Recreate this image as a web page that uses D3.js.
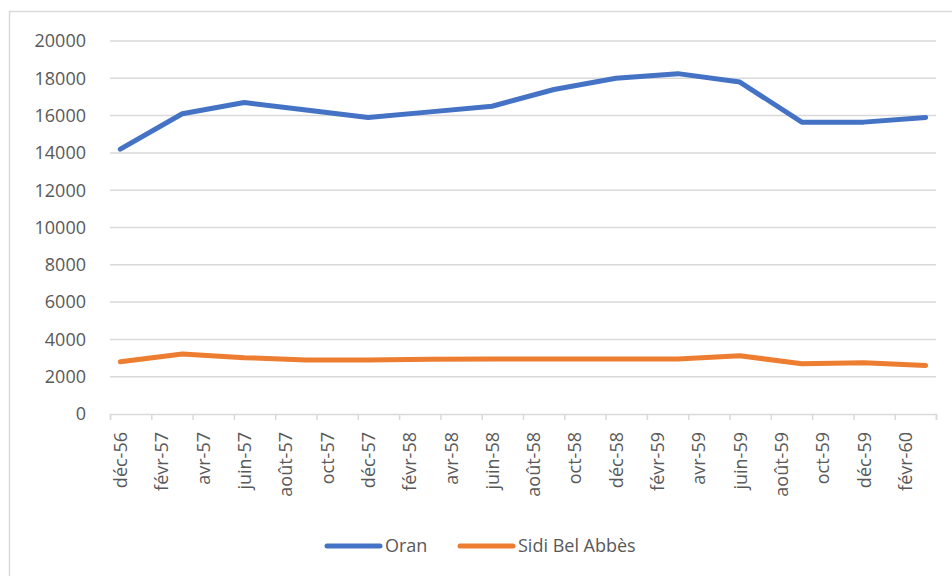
<!DOCTYPE html>
<html>
<head>
<meta charset="utf-8">
<script src="https://cdn.jsdelivr.net/npm/d3@7"></script>
<style>
  body { margin: 0; background: #fff; }
  text { font-family: "Open Sans", sans-serif; fill: #595959; }
</style>
</head>
<body>
<svg width="952" height="576"></svg>
<script>
// quarterly readings (year, month 0-based)
const dates = [
  [1956, 11], [1957, 2], [1957, 5], [1957, 8], [1957, 11], [1958, 2], [1958, 5],
  [1958, 8], [1958, 11], [1959, 2], [1959, 5], [1959, 8], [1959, 11], [1960, 2]
];
const oran = [14200, 16100, 16700, 16300, 15900, 16200, 16500, 17400, 18000, 18250, 17800, 15650, 15650, 15900];
const sidi = [2800, 3220, 3020, 2900, 2900, 2930, 2950, 2950, 2950, 2950, 3120, 2700, 2750, 2600];

const tickLabels = ['déc-56', 'févr-57', 'avr-57', 'juin-57', 'août-57', 'oct-57', 'déc-57', 'févr-58',
  'avr-58', 'juin-58', 'août-58', 'oct-58', 'déc-58', 'févr-59', 'avr-59', 'juin-59', 'août-59',
  'oct-59', 'déc-59', 'févr-60'];
const yTicks = [0, 2000, 4000, 6000, 8000, 10000, 12000, 14000, 16000, 18000, 20000];

const seriesNames = ['Oran', 'Sidi Bel Abbès'];
const colors = ['#4472C4', '#ED7D31'];

const svg = d3.select('svg');

// chart frame (cut at right/bottom as in the picture)
svg.append('path')
  .attr('d', 'M9.5,576 V11.5 H952')
  .attr('fill', 'none')
  .attr('stroke', '#d9d9d9')
  .attr('stroke-width', 1.5);

const start = new Date(1956, 11, 1);
const monthIdx = d => d3.timeMonth.count(start, new Date(d[0], d[1], 1));

const x = d3.scaleLinear().domain([0, 40]).range([110, 936]);
const y = d3.scaleLinear().domain([0, 20000]).range([414, 41]);

// gridlines
svg.append('g')
  .selectAll('line')
  .data(yTicks.filter(v => v > 0))
  .join('line')
    .attr('x1', x(0))
    .attr('x2', x(40))
    .attr('y1', d => y(d))
    .attr('y2', d => y(d))
    .attr('stroke', '#d9d9d9')
    .attr('stroke-width', 1.5);

// y labels
svg.append('g')
  .selectAll('text')
  .data(yTicks)
  .join('text')
    .attr('x', 86)
    .attr('y', d => y(d))
    .attr('dy', '0.35em')
    .attr('text-anchor', 'end')
    .style('font-size', '18px')
    .text(d => d);

// x axis with ticks every two months
const xAxisG = svg.append('g')
  .attr('transform', `translate(0,${y(0)})`)
  .call(d3.axisBottom(x).tickValues(d3.range(0, 41, 2)).tickSize(6).tickFormat(''));
xAxisG.select('.domain').attr('stroke', '#d9d9d9').attr('stroke-width', 1.5);
xAxisG.selectAll('.tick line').attr('stroke', '#d9d9d9').attr('stroke-width', 1.5);

const labelAxisG = svg.append('g')
  .attr('transform', `translate(0,${y(0)})`)
  .call(d3.axisBottom(x)
    .tickValues(d3.range(0.5, 40, 2))
    .tickSize(0)
    .tickFormat((d, i) => tickLabels[i]));
labelAxisG.select('.domain').remove();
labelAxisG.selectAll('text')
  .attr('fill', '#595959')
  .style('font-family', '"Open Sans", sans-serif')
  .style('font-size', '18px')
  .attr('transform', 'rotate(-90)')
  .attr('text-anchor', 'end')
  .attr('x', -18)
  .attr('y', 0)
  .attr('dy', '0.35em');

// lines
const line = d3.line()
  .x(d => x(monthIdx(d.date) + 0.5))
  .y(d => y(d.value));

[oran, sidi].forEach((vals, k) => {
  svg.append('path')
    .datum(vals.map((v, i) => ({ date: dates[i], value: v })))
    .attr('fill', 'none')
    .attr('stroke', colors[k])
    .attr('stroke-width', 5)
    .attr('stroke-linejoin', 'round')
    .attr('stroke-linecap', 'round')
    .attr('d', line);
});

// legend
const legendItems = [{ x: 327 }, { x: 460 }];
const legend = svg.append('g')
  .selectAll('g')
  .data(seriesNames)
  .join('g')
    .attr('transform', (d, i) => `translate(${legendItems[i].x},546)`);
legend.append('line')
  .attr('x1', 0).attr('x2', 53)
  .attr('stroke', (d, i) => colors[i])
  .attr('stroke-width', 5)
  .attr('stroke-linecap', 'round');
legend.append('text')
  .attr('x', 58)
  .attr('dy', '0.35em')
  .style('font-size', '18px')
  .text(d => d);
</script>
</body>
</html>
